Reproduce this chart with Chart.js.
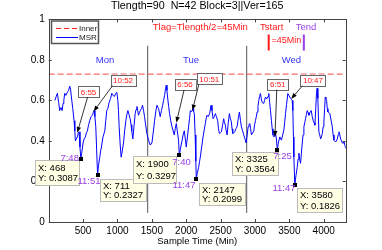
<!DOCTYPE html>
<html><head><meta charset="utf-8">
<script src="https://cdn.jsdelivr.net/npm/chart.js@4.4.1/dist/chart.umd.min.js"></script>
<style>html,body{margin:0;padding:0;background:#fff}#wrap{width:382px;height:250px}</style>
</head><body><div id="wrap"><canvas id="c" width="382" height="250"></canvas></div>
<script>
// ---------- data ----------
const timeMin = [90,110,126,145,160,180,195,208,220,233,250,271,290,306,318,330,350,369,380,388,400,417,430,442,455,468,480,500,515,534,548,563,580,597,615,636,648,660,672,685,697,711,725,743,755,767,790,816,830,845,860,879,900,918,935,956,975,991,1006,1015,1025,1040,1054,1070,1088,1105,1122,1137,1152,1168,1185,1198,1208,1224,1240,1258,1270,1283,1295,1306,1320,1331,1350,1365,1380,1394,1410,1428,1452,1477,1501,1520,1540,1560,1574,1598,1622,1640,1657,1671,1686,1700,1710,1720,1729,1745,1758,1775,1793,1810,1826,1840,1856,1870,1889,1900,1915,1939,1955,1972,1987,2001,2018,2035,2048,2060,2080,2099,2108,2118,2130,2140,2147,2160,2181,2195,2205,2225,2245,2260,2278,2290,2303,2320,2341,2362,2375,2391,2410,2424,2440,2458,2470,2483,2497,2512,2530,2545,2557,2570,2582,2595,2612,2628,2642,2657,2667,2677,2692,2706,2722,2740,2757,2774,2790,2803,2820,2837,2855,2872,2887,2901,2913,2925,2937,2949,2966,2983,2995,3007,3020,3032,3044,3056,3068,3080,3092,3105,3117,3128,3140,3153,3165,3178,3190,3201,3214,3226,3240,3251,3262,3274,3287,3299,3312,3325,3340,3362,3375,3386,3403,3420,3432,3445,3460,3478,3492,3507,3520,3532,3542,3551,3560,3566,3580,3597,3615,3627,3639,3650,3663,3676,3688,3700,3712,3724,3736,3748,3761,3773,3785,3800,3819,3833,3848,3860,3872,3884,3896,3905,3915,3930,3942,3955,3967,3980,3992,4003,4013,4023,4032,4042,4052,4061,4075,4090,4108,4125,4137,4149,4160,4173,4185,4198,4210,4222,4234,4246,4258,4271,4283,4295,4308,4320];
const msrValue = [0.60,0.62,0.635,0.59,0.55,0.565,0.55,0.585,0.60,0.635,0.625,0.64,0.65,0.67,0.655,0.617,0.56,0.50,0.45,0.40,0.41,0.42,0.44,0.445,0.37,0.3087,0.34,0.39,0.41,0.42,0.44,0.45,0.48,0.50,0.52,0.527,0.54,0.55,0.52,0.47,0.36,0.2327,0.28,0.32,0.35,0.37,0.42,0.45,0.50,0.55,0.56,0.59,0.61,0.635,0.625,0.62,0.635,0.64,0.60,0.55,0.47,0.38,0.32,0.35,0.39,0.45,0.50,0.53,0.55,0.53,0.51,0.48,0.45,0.41,0.47,0.535,0.555,0.57,0.55,0.527,0.54,0.55,0.56,0.576,0.55,0.52,0.48,0.437,0.404,0.38,0.39,0.44,0.50,0.55,0.576,0.56,0.52,0.55,0.576,0.60,0.625,0.66,0.675,0.65,0.617,0.57,0.535,0.50,0.47,0.45,0.43,0.46,0.486,0.45,0.404,0.3297,0.36,0.40,0.43,0.45,0.41,0.37,0.42,0.47,0.51,0.55,0.545,0.56,0.545,0.535,0.43,0.30,0.2099,0.24,0.27,0.30,0.32,0.37,0.42,0.45,0.486,0.51,0.527,0.52,0.535,0.576,0.55,0.51,0.52,0.535,0.52,0.50,0.46,0.437,0.44,0.445,0.48,0.51,0.49,0.478,0.45,0.43,0.49,0.535,0.51,0.494,0.46,0.437,0.44,0.445,0.46,0.47,0.51,0.543,0.50,0.47,0.45,0.43,0.41,0.39,0.43,0.47,0.48,0.486,0.46,0.43,0.44,0.45,0.48,0.50,0.52,0.543,0.57,0.60,0.62,0.634,0.61,0.59,0.59,0.585,0.60,0.617,0.61,0.61,0.62,0.634,0.59,0.55,0.50,0.46,0.43,0.42,0.43,0.437,0.41,0.3564,0.39,0.42,0.41,0.404,0.43,0.453,0.49,0.535,0.58,0.634,0.625,0.617,0.61,0.604,0.60,0.55,0.42,0.32,0.1826,0.23,0.27,0.31,0.34,0.31,0.29,0.34,0.39,0.43,0.47,0.49,0.51,0.53,0.55,0.54,0.527,0.54,0.55,0.52,0.50,0.49,0.478,0.56,0.64,0.66,0.61,0.445,0.43,0.41,0.42,0.437,0.47,0.494,0.56,0.617,0.61,0.60,0.56,0.543,0.54,0.535,0.50,0.47,0.43,0.404,0.40,0.395,0.40,0.41,0.43,0.445,0.43,0.41,0.40,0.39,0.39,0.395,0.38,0.363];
const innerLevel = 0.73;
const daySplits = [1440, 2880];
const dayNames = ['Mon', 'Tue', 'Wed'];
const dayLabelX = [820, 2070, 3530];
const xTickValues = [500, 1000, 1500, 2000, 2500, 3000, 3500, 4000];
const yTickValues = [0, 0.2, 0.4, 0.6, 0.8, 1];
const tipX = [468, 711, 1900, 2147, 3325, 3580];
const tipY = [0.3087, 0.2327, 0.3297, 0.2099, 0.3564, 0.1826];
const tipTimeText = ['7:48', '11:51', '7:40', '11:47', '7:25', '11:47'];
const startTimes = [415, 1856, 3291];
const startText = ['6:55', '6:56', '6:51'];
const endTimes = [652, 2091, 3527];
const endText = ['10:52', '10:51', '10:47'];
const titleText = 'Tlength=90  N=42 Block=3||Ver=165';
const xTitle = 'Sample Time (Min)';

// ---------- styles / positions ----------
const FONT = '"Liberation Sans", Arial, sans-serif';
const RED = '#ff1a1a', PURPLE = '#9b3fe6', BLUE = '#0000ff';
const arrowTipY = [0.44, 0.545, 0.49, 0.55, 0.42, 0.607];
const startBox = [[579, 0.642], [1983, 0.678], [3332, 0.68]];
const endBox = [[1081, 0.70], [2336, 0.706], [3844, 0.70]];
const timeLabelPos = [[305, 0.313], [586, 0.202], [1932, 0.294], [1968, 0.179], [3401, 0.322], [3423, 0.168]];
const tipBox = [[-45.9, 0.5, 44.3, 25], [2.4, 4.4, 46, 22.4], [-46, 0.8, 42.5, 27], [3, 3.2, 45.7, 22.3], [-45.6, 1.9, 45.6, 23.3], [2.5, 3.3, 45.4, 24.4]];

const msrData = timeMin.map((t, i) => ({x: t, y: msrValue[i]}));

function arrow(ctx, x0, y0, x1, y1) {
  ctx.save();
  ctx.strokeStyle = '#000'; ctx.fillStyle = '#000'; ctx.lineWidth = 0.8;
  const a = Math.atan2(y1 - y0, x1 - x0), L = 6, W = 2.2;
  const bx = x1 - L * Math.cos(a), by = y1 - L * Math.sin(a);
  ctx.beginPath(); ctx.moveTo(x0, y0); ctx.lineTo(bx, by); ctx.stroke();
  ctx.beginPath(); ctx.moveTo(x1, y1);
  ctx.lineTo(bx + W * Math.sin(a), by - W * Math.cos(a));
  ctx.lineTo(bx - W * Math.sin(a), by + W * Math.cos(a));
  ctx.closePath(); ctx.fill();
  ctx.restore();
}
function boxLabel(ctx, cx, cy, text) {
  ctx.font = '8px ' + FONT;
  const w = ctx.measureText(text).width + 5, h = 11;
  ctx.fillStyle = '#fff'; ctx.fillRect(cx - w / 2, cy - h / 2, w, h);
  ctx.strokeStyle = '#666'; ctx.lineWidth = 1;
  ctx.strokeRect(Math.round(cx - w / 2) + 0.5, Math.round(cy - h / 2) + 0.5, Math.round(w), h);
  ctx.fillStyle = RED; ctx.textAlign = 'center'; ctx.textBaseline = 'middle';
  ctx.fillText(text, cx, cy + 0.5);
  return {x: cx - w / 2, y: cy - h / 2, w, h};
}

const decor = {
  id: 'decor',
  afterDatasetsDraw(chart) {
    const ctx = chart.ctx, xs = chart.scales.x, ys = chart.scales.y, a = chart.chartArea;
    const X = v => xs.getPixelForValue(v), Y = v => ys.getPixelForValue(v);
    ctx.save();
    // frame
    ctx.strokeStyle = '#444'; ctx.lineWidth = 1;
    ctx.strokeRect(Math.round(a.left) + 0.5, Math.round(a.top) + 0.5, Math.round(a.right - a.left), Math.round(a.bottom - a.top));
    ctx.beginPath();
    xTickValues.forEach(v => { const p = Math.round(X(v)) + 0.5; ctx.moveTo(p, a.bottom); ctx.lineTo(p, a.bottom - 3); ctx.moveTo(p, a.top); ctx.lineTo(p, a.top + 3); });
    yTickValues.forEach(v => { const p = Math.round(Y(v)) + 0.5; ctx.moveTo(a.left, p); ctx.lineTo(a.left + 3, p); ctx.moveTo(a.right, p); ctx.lineTo(a.right - 3, p); });
    ctx.stroke();
    // title and axis title
    ctx.fillStyle = '#000'; ctx.textAlign = 'center'; ctx.textBaseline = 'middle';
    ctx.font = '10.7px ' + FONT; ctx.fillText(titleText, (a.left + a.right) / 2, 6.5);
    ctx.font = '9.5px ' + FONT; ctx.fillText(xTitle, (a.left + a.right) / 2, 241);
    // Tlag texts
    ctx.font = '9.5px ' + FONT; ctx.fillStyle = RED;
    ctx.fillText('Tlag=Tlength/2=45Min', 200.3, 27);
    ctx.fillText('Tstart', 271.7, 27);
    ctx.fillStyle = PURPLE; ctx.fillText('Tend', 306, 27);
    ctx.fillStyle = RED; ctx.font = '9px ' + FONT; ctx.fillText('=45Min', 286.3, 41);
    // day names
    ctx.font = '9.5px ' + FONT; ctx.fillStyle = '#3333ff';
    dayNames.forEach((d, i) => ctx.fillText(d, X(dayLabelX[i]), Y(0.8)));
    // arrows + boxed labels
    for (let i = 0; i < 3; i++) {
      let b = boxLabel(ctx, X(startBox[i][0]), Y(startBox[i][1]), startText[i]);
      arrow(ctx, b.x + b.w / 2 - 1, b.y + b.h, X(startTimes[i]), Y(arrowTipY[i * 2]));
      b = boxLabel(ctx, X(endBox[i][0]), Y(endBox[i][1]), endText[i]);
      arrow(ctx, b.x + 2, b.y + b.h, X(endTimes[i]), Y(arrowTipY[i * 2 + 1]));
    }
    // datatips
    tipX.forEach((t, i) => {
      const mx = X(t), my = Y(tipY[i]);
      const [dx, dy, w, h] = tipBox[i];
      const bx = Math.round(mx + dx) + 0.5, by = Math.round(my + dy) + 0.5;
      ctx.fillStyle = '#ffffe6'; ctx.fillRect(bx, by, Math.round(w), Math.round(h));
      ctx.strokeStyle = '#bbb'; ctx.lineWidth = 1; ctx.strokeRect(bx, by, Math.round(w), Math.round(h));
      ctx.fillStyle = '#000'; ctx.font = '9.5px ' + FONT; ctx.textAlign = 'left'; ctx.textBaseline = 'middle';
      ctx.fillText('X: ' + t, bx + 2.5, by + h * 0.3);
      ctx.fillText('Y: ' + tipY[i].toFixed(4), bx + 2.5, by + h * 0.72);
      ctx.fillRect(Math.round(mx) - 2, Math.round(my) - 2, 4, 4);
    });
    // purple time labels
    ctx.font = '9.5px ' + FONT; ctx.fillStyle = PURPLE; ctx.textAlign = 'center';
    tipTimeText.forEach((s, i) => ctx.fillText(s, X(timeLabelPos[i][0]), Y(timeLabelPos[i][1])));
    // legend
    ctx.fillStyle = '#fff'; ctx.fillRect(51, 20.5, 48, 23);
    ctx.strokeStyle = '#555'; ctx.lineWidth = 1.5; ctx.strokeRect(51.5, 21, 47, 22.5);
    ctx.lineWidth = 1; ctx.strokeStyle = RED; ctx.setLineDash([5, 3]);
    ctx.beginPath(); ctx.moveTo(56, 28.5); ctx.lineTo(78, 28.5); ctx.stroke();
    ctx.setLineDash([]); ctx.strokeStyle = BLUE;
    ctx.beginPath(); ctx.moveTo(56, 37.5); ctx.lineTo(78, 37.5); ctx.stroke();
    ctx.fillStyle = '#222'; ctx.font = '8px ' + FONT; ctx.textAlign = 'left';
    ctx.fillText('Inner', 79, 28.5); ctx.fillText('MSR', 79, 37.5);
    ctx.restore();
  }
};

new Chart(document.getElementById('c'), {
  type: 'line',
  data: {
    datasets: [
      {label: 'MSR', data: msrData, borderColor: BLUE, borderWidth: 1, pointRadius: 0, tension: 0},
      {label: 'Inner', data: [{x: 0, y: innerLevel}, {x: 4320, y: innerLevel}], borderColor: 'rgb(245,70,70)', borderWidth: 1, borderDash: [6, 3], pointRadius: 0},
      {label: 'day1', data: [{x: daySplits[0], y: 0.045}, {x: daySplits[0], y: 0.87}], borderColor: '#555', borderWidth: 1, pointRadius: 0},
      {label: 'day2', data: [{x: daySplits[1], y: 0.045}, {x: daySplits[1], y: 0.87}], borderColor: '#555', borderWidth: 1, pointRadius: 0},
      {label: 'Tstart', data: [{x: 3200, y: 0.847}, {x: 3200, y: 0.926}], borderColor: RED, borderWidth: 2, pointRadius: 0},
      {label: 'Tend', data: [{x: 3711, y: 0.847}, {x: 3711, y: 0.926}], borderColor: PURPLE, borderWidth: 2, pointRadius: 0}
    ]
  },
  options: {
    responsive: false, animation: false, devicePixelRatio: 1,
    layout: {padding: {top: 19.4, right: 36.3, left: 0, bottom: 0}},
    plugins: {legend: {display: false}, tooltip: {enabled: false}, title: {display: false}},
    scales: {
      x: {
        type: 'linear', min: 0, max: 4320,
        grid: {display: false, drawTicks: false}, border: {display: false},
        afterBuildTicks: s => { s.ticks = xTickValues.map(v => ({value: v})); },
        afterFit: s => { s.height = 28; },
        ticks: {color: '#000', font: {family: FONT, size: 10}, padding: 3, maxRotation: 0, autoSkip: false, callback: v => String(v)}
      },
      y: {
        type: 'linear', min: 0, max: 1,
        grid: {display: false, drawTicks: false}, border: {display: false},
        afterBuildTicks: s => { s.ticks = yTickValues.map(v => ({value: v})); },
        afterFit: s => { s.width = 48.7; },
        ticks: {color: '#000', font: {family: FONT, size: 10}, padding: 4, callback: v => String(+v.toFixed(1))}
      }
    }
  },
  plugins: [decor]
});
</script></body></html>
